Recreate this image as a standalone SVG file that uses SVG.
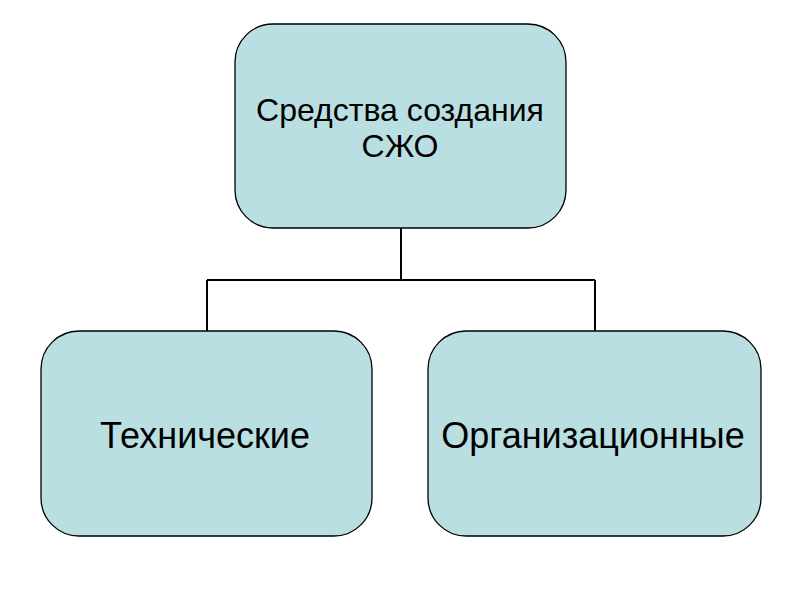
<svg xmlns="http://www.w3.org/2000/svg" width="800" height="600" viewBox="0 0 800 600">
<style>
.box{fill:#badfe2;stroke:#000;stroke-width:1.3}
.t{font-family:"Liberation Sans",Arial,sans-serif;font-size:32px;fill:#000;text-anchor:middle}
.b{font-size:36px}
.c{fill:none;stroke:#000;stroke-width:2}
</style>
<rect width="800" height="600" fill="#fff"/>
<g id="connectors">
<path class="c" d="M401 228V280M207 280H595M207 280V331M595 280V331"/>
</g>
<g id="root">
<rect class="box" x="235" y="24" width="331" height="204" rx="38"/>
<text class="t" x="400" y="121">Средства создания</text>
<text class="t" x="400" y="157">СЖО</text>
</g>
<g id="tech">
<rect class="box" x="41" y="331" width="331" height="205" rx="38"/>
<text class="t b" x="205" y="448">Технические</text>
</g>
<g id="org">
<rect class="box" x="428" y="331" width="333" height="205" rx="38"/>
<text class="t b" x="593" y="448">Организационные</text>
</g>
</svg>
